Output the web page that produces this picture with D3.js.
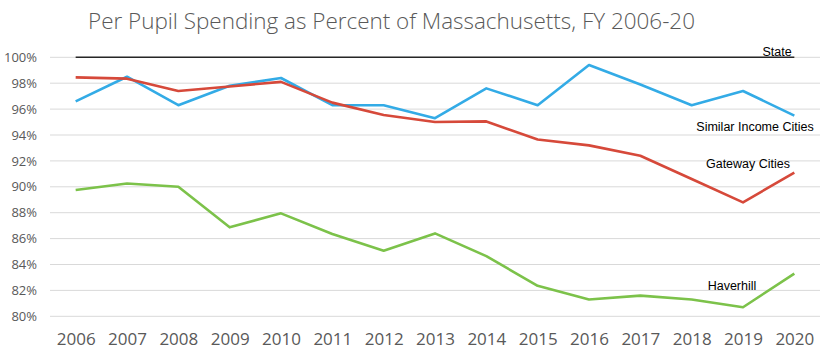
<!DOCTYPE html>
<html><head><meta charset="utf-8">
<script src="https://cdn.jsdelivr.net/npm/d3@7"></script>
<style>body{margin:0;background:#fff;} svg{display:block;}</style>
</head><body>
<svg id="chart" width="840" height="361"></svg>
<script>
const years = ["2006","2007","2008","2009","2010","2011","2012","2013","2014","2015","2016","2017","2018","2019","2020"];
const state = [100,100,100,100,100,100,100,100,100,100,100,100,100,100,100];
const similarIncome = [96.6,98.5,96.3,97.8,98.4,96.3,96.3,95.3,97.6,96.3,99.4,97.9,96.3,97.4,95.5];
const gateway = [98.45,98.35,97.4,97.75,98.1,96.5,95.55,95.0,95.05,93.65,93.2,92.4,90.6,88.8,91.1];
const haverhill = [89.75,90.25,90.0,86.87,87.95,86.35,85.07,86.4,84.65,82.35,81.3,81.6,81.3,80.7,83.3];
const yTicks = [80,82,84,86,88,90,92,94,96,98,100];

const svg = d3.select("#chart");
const x = d3.scalePoint().domain(years).range([50,820]).padding(0.5);
const y = d3.scaleLinear().domain([80,100]).range([316.3,57.3]);

svg.append("text").attr("x",88).attr("y",29)
  .attr("font-family","Open Sans, sans-serif").attr("font-weight",300)
  .attr("font-size",22).attr("fill","#595959")
  .attr("textLength",607).attr("lengthAdjust","spacingAndGlyphs")
  .text("Per Pupil Spending as Percent of Massachusetts, FY 2006-20");

// grid
svg.append("g").selectAll("line").data(yTicks).join("line")
  .attr("x1",50).attr("x2",820).attr("y1",d=>y(d)).attr("y2",d=>y(d))
  .attr("stroke","#d9d9d9").attr("stroke-width",1);

const yAxis = d3.axisLeft(y).tickValues(yTicks).tickFormat(d=>d+"%").tickSize(0).tickPadding(0);
const gy = svg.append("g").attr("transform","translate(37,0)").call(yAxis);
gy.select(".domain").remove();
gy.selectAll("text").attr("font-family","Open Sans, sans-serif").attr("font-size",13).attr("fill","#595959");

const xAxis = d3.axisBottom(x).tickSize(0).tickPadding(0);
const gx = svg.append("g").attr("transform","translate(0,333)").call(xAxis);
gx.select(".domain").remove();
gx.selectAll("text").attr("font-family","Open Sans, sans-serif").attr("font-size",17).attr("fill","#595959");

const line = d3.line().x((d,i)=>x(years[i])).y(d=>y(d));
const series = [
  {v:state,c:"#262626",w:1.6},
  {v:similarIncome,c:"#33abe6",w:2.6},
  {v:gateway,c:"#d6493a",w:2.6},
  {v:haverhill,c:"#7cc24a",w:2.6}
];
svg.append("g").selectAll("path").data(series).join("path")
  .attr("d",d=>line(d.v)).attr("fill","none").attr("stroke",d=>d.c).attr("stroke-width",d=>d.w)
  .attr("stroke-linejoin","round");

const labels = [
  {t:"State",x:777,y:56},
  {t:"Similar Income Cities",x:755,y:131},
  {t:"Gateway Cities",x:748,y:168},
  {t:"Haverhill",x:732,y:290}
];
svg.append("g").selectAll("text").data(labels).join("text")
  .attr("x",d=>d.x).attr("y",d=>d.y).attr("text-anchor","middle")
  .attr("font-family","Liberation Sans, sans-serif").attr("font-size",12.5).attr("fill","#000")
  .text(d=>d.t);
</script>
</body></html>
